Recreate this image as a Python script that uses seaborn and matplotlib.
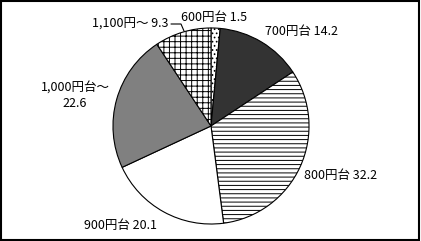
import matplotlib
matplotlib.use("Agg")
import matplotlib.pyplot as plt
import seaborn as sns
from matplotlib.patches import Rectangle
from matplotlib.lines import Line2D

sns.set_theme(style="white")
plt.rcParams['font.family'] = ['Noto Sans CJK JP', 'DejaVu Sans']
plt.rcParams['hatch.linewidth'] = 0.7
plt.rcParams['hatch.color'] = 'black'

categories = ["600円台", "700円台", "800円台", "900円台", "1,000円台～", "1,100円～"]
values = [1.5, 14.2, 32.2, 20.1, 22.6, 9.3]
label_texts = ["600円台 1.5", "700円台 14.2", "800円台 32.2", "900円台 20.1",
               "1,000円台～\n22.6", "1,100円～ 9.3"]

colors = ["white", "#333333", "white", "white", "#808080", "white"]
hatches = ["....", None, "----", None, None, "+++"]
# label pixel positions (x, y, ha)
label_pos = [(214, 17, "center"), (265, 31, "left"), (304, 175, "left"),
             (84, 225, "left"), (75, 96, "center"), (92, 24, "left")]

W, H = 421, 241
fig = plt.figure(figsize=(W / 100, H / 100), dpi=100)
cx, cy, r = 211, 126, 99
ax = fig.add_axes([(cx - r) / W, (H - cy - r) / H, 2 * r / W, 2 * r / H])

wedges, _ = ax.pie(values, startangle=90, counterclock=False, colors=colors,
                   wedgeprops=dict(edgecolor="black", linewidth=0.8))
for w, h in zip(wedges, hatches):
    if h:
        w.set_hatch(h)
ax.set_xlim(-1.01, 1.01)
ax.set_ylim(-1.01, 1.01)
ax.axis("off")

for txt, (x, y, ha) in zip(label_texts, label_pos):
    fig.text(x / W, 1 - y / H, txt, ha=ha, va="center", fontsize=9,
             color="black", linespacing=1.25)

# leader line for 1,100円～
fig.add_artist(Line2D([171 / W, 181 / W, 184 / W], [1 - 24 / H, 1 - 24 / H, 1 - 31 / H],
                      color="black", linewidth=0.8))

fig.add_artist(Rectangle((0.002, 0.004), 0.994, 0.99, transform=fig.transFigure,
                         fill=False, edgecolor="black", linewidth=1.5))

fig.savefig("out.png", dpi=100)
